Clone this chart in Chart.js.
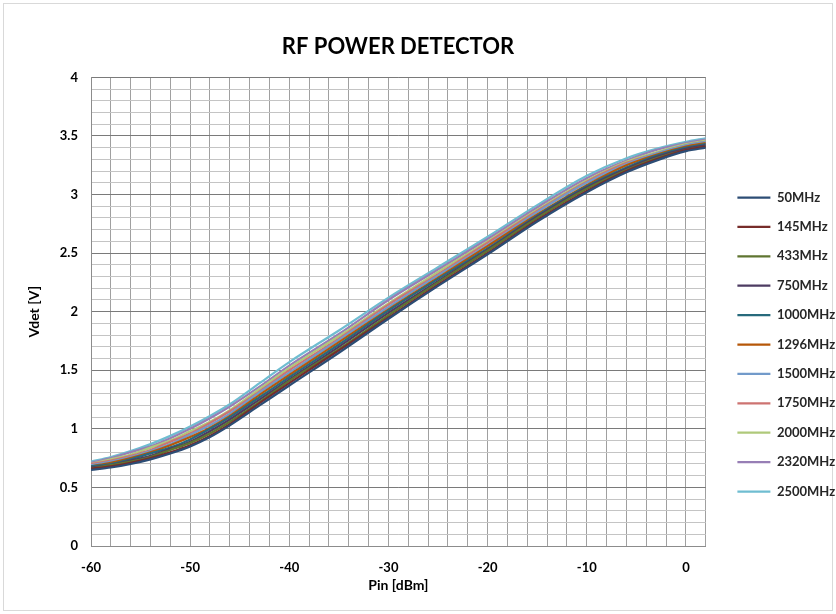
<!DOCTYPE html>
<html>
<head>
<meta charset="utf-8">
<script src="https://cdn.jsdelivr.net/npm/chart.js@4/dist/chart.umd.min.js"></script>
<style>
  html, body { margin: 0; padding: 0; background: #fff; }
  #wrap { width: 836px; height: 614px; }
</style>
</head>
<body>
<div id="wrap"><canvas id="rf-chart" width="836" height="614"></canvas></div>
<script>
// 输入功率 (dBm)
const pin = [-60, -58, -56, -54, -52, -50, -48, -46, -43, -40, -35, -30, -25, -20, -15, -10, -6, -3, 0, 2];

// 各频率的检波电压 (V)
const v50   = [0.65, 0.67, 0.70, 0.74, 0.79, 0.85, 0.93, 1.03, 1.20, 1.37, 1.65, 1.94, 2.22, 2.49, 2.77, 3.02, 3.19, 3.29, 3.37, 3.40];
const v145  = [0.66, 0.68, 0.71, 0.75, 0.80, 0.86, 0.94, 1.04, 1.22, 1.39, 1.67, 1.95, 2.23, 2.50, 2.78, 3.03, 3.20, 3.30, 3.38, 3.41];
const v433  = [0.66, 0.69, 0.72, 0.76, 0.82, 0.88, 0.96, 1.06, 1.23, 1.41, 1.68, 1.97, 2.25, 2.52, 2.80, 3.05, 3.21, 3.31, 3.38, 3.41];
const v750  = [0.67, 0.69, 0.73, 0.77, 0.83, 0.89, 0.98, 1.08, 1.25, 1.42, 1.70, 1.99, 2.26, 2.53, 2.81, 3.06, 3.22, 3.32, 3.39, 3.42];
const v1000 = [0.68, 0.70, 0.74, 0.79, 0.84, 0.91, 1.00, 1.10, 1.27, 1.44, 1.72, 2.01, 2.28, 2.54, 2.82, 3.07, 3.23, 3.33, 3.40, 3.43];
const v1296 = [0.68, 0.71, 0.75, 0.80, 0.86, 0.93, 1.01, 1.11, 1.29, 1.46, 1.74, 2.02, 2.29, 2.56, 2.83, 3.08, 3.25, 3.34, 3.41, 3.44];
const v1500 = [0.69, 0.72, 0.76, 0.81, 0.87, 0.95, 1.03, 1.13, 1.31, 1.48, 1.76, 2.04, 2.31, 2.57, 2.85, 3.10, 3.26, 3.35, 3.42, 3.45];
const v1750 = [0.70, 0.73, 0.77, 0.82, 0.89, 0.96, 1.05, 1.15, 1.32, 1.50, 1.77, 2.06, 2.32, 2.59, 2.86, 3.11, 3.27, 3.35, 3.42, 3.45];
const v2000 = [0.70, 0.74, 0.78, 0.84, 0.90, 0.98, 1.06, 1.16, 1.34, 1.52, 1.79, 2.07, 2.34, 2.60, 2.87, 3.12, 3.28, 3.36, 3.43, 3.46];
const v2320 = [0.71, 0.75, 0.80, 0.85, 0.92, 1.00, 1.09, 1.19, 1.36, 1.54, 1.81, 2.10, 2.36, 2.62, 2.89, 3.14, 3.29, 3.38, 3.44, 3.47];
const v2500 = [0.72, 0.76, 0.81, 0.87, 0.94, 1.02, 1.11, 1.21, 1.39, 1.57, 1.84, 2.12, 2.38, 2.64, 2.91, 3.16, 3.31, 3.39, 3.45, 3.48];

const seriesNames = ['50MHz', '145MHz', '433MHz', '750MHz', '1000MHz', '1296MHz', '1500MHz', '1750MHz', '2000MHz', '2320MHz', '2500MHz'];
const seriesData = [v50, v145, v433, v750, v1000, v1296, v1500, v1750, v2000, v2320, v2500];
const seriesColors = ['#2C4D75', '#772C2A', '#5F7530', '#4D3B62', '#276A7C', '#B65708', '#729ACA', '#CD7371', '#AFC97A', '#977EB5', '#6FBDD1'];

const FONT = 'Lato, "Open Sans", sans-serif';

// 背景、外框，以及标题/图例的位置微调
const frame = {
    id: 'frame',
    beforeDraw(chart) {
        const c = chart.ctx;
        c.save();
        c.fillStyle = '#fff';
        c.fillRect(0, 0, chart.width, chart.height);
        c.strokeStyle = '#d9d9d9';
        c.lineWidth = 1;
        c.strokeRect(3.5, 3.5, chart.width - 7, chart.height - 7);
        c.restore();
    },
    afterLayout(chart) {
        const lg = chart.legend;
        const w = lg.right - lg.left;
        lg.left = 721; lg.right = 721 + w;
        lg.top += 30; lg.bottom += 30;
        const t = chart.titleBlock;
        t.left -= 22; t.right -= 22;
    }
};

const datasets = seriesNames.map((name, i) => ({
    label: name,
    data: pin.map((x, j) => ({ x: x, y: seriesData[i][j] })),
    borderColor: seriesColors[i],
    backgroundColor: seriesColors[i],
    borderWidth: 2.25,
    pointRadius: 0,
    cubicInterpolationMode: 'monotone',
    fill: false
}));

new Chart(document.getElementById('rf-chart'), {
    type: 'line',
    data: { datasets: datasets },
    plugins: [frame],
    options: {
        responsive: false,
        animation: false,
        layout: { padding: { left: 10, right: 6, top: 25, bottom: 10 } },
        plugins: {
            title: {
                display: true,
                text: 'RF POWER DETECTOR',
                color: '#000',
                font: { family: FONT, size: 22, weight: 'bold' },
                padding: { top: 9, bottom: 17 }
            },
            legend: {
                position: 'right',
                labels: {
                    usePointStyle: true,
                    pointStyle: 'line',
                    pointStyleWidth: 33,
                    boxWidth: 28,
                    boxHeight: 10,
                    padding: 16.4,
                    color: '#262626',
                    font: { family: FONT, size: 13, weight: 'bold' }
                }
            },
            tooltip: { enabled: false }
        },
        scales: {
            x: {
                type: 'linear',
                min: -60,
                max: 2,
                afterFit(s) { s.height = 58; },
                border: { color: '#8c8c8c' },
                grid: { color: '#a0a0a0', drawTicks: false },
                ticks: {
                    stepSize: 2,
                    autoSkip: false,
                    maxRotation: 0,
                    padding: 14,
                    color: '#000',
                    font: { family: FONT, size: 13, weight: 'bold' },
                    callback: v => (v % 10 === 0 ? String(v) : '')
                },
                title: {
                    display: true,
                    text: 'Pin [dBm]',
                    color: '#000',
                    font: { family: FONT, size: 14, weight: 'bold' },
                    padding: { top: 0, bottom: 10 }
                }
            },
            y: {
                min: 0,
                max: 4,
                afterFit(s) { s.width = 81; },
                border: { color: '#8c8c8c' },
                grid: {
                    drawTicks: false,
                    color: ctx => (Math.round(ctx.tick.value * 10) % 5 === 0 ? '#7a7a7a' : '#c4c4c4')
                },
                ticks: {
                    stepSize: 0.1,
                    autoSkip: false,
                    padding: 13,
                    color: '#000',
                    font: { family: FONT, size: 13, weight: 'bold' },
                    callback: v => {
                        const k = Math.round(v * 10);
                        return k % 5 === 0 ? String(k / 10) : '';
                    }
                },
                title: {
                    display: true,
                    text: 'Vdet [V]',
                    color: '#000',
                    font: { family: FONT, size: 14, weight: 'bold' },
                    padding: { top: 16, bottom: 0 }
                }
            }
        }
    }
});
</script>
</body>
</html>
